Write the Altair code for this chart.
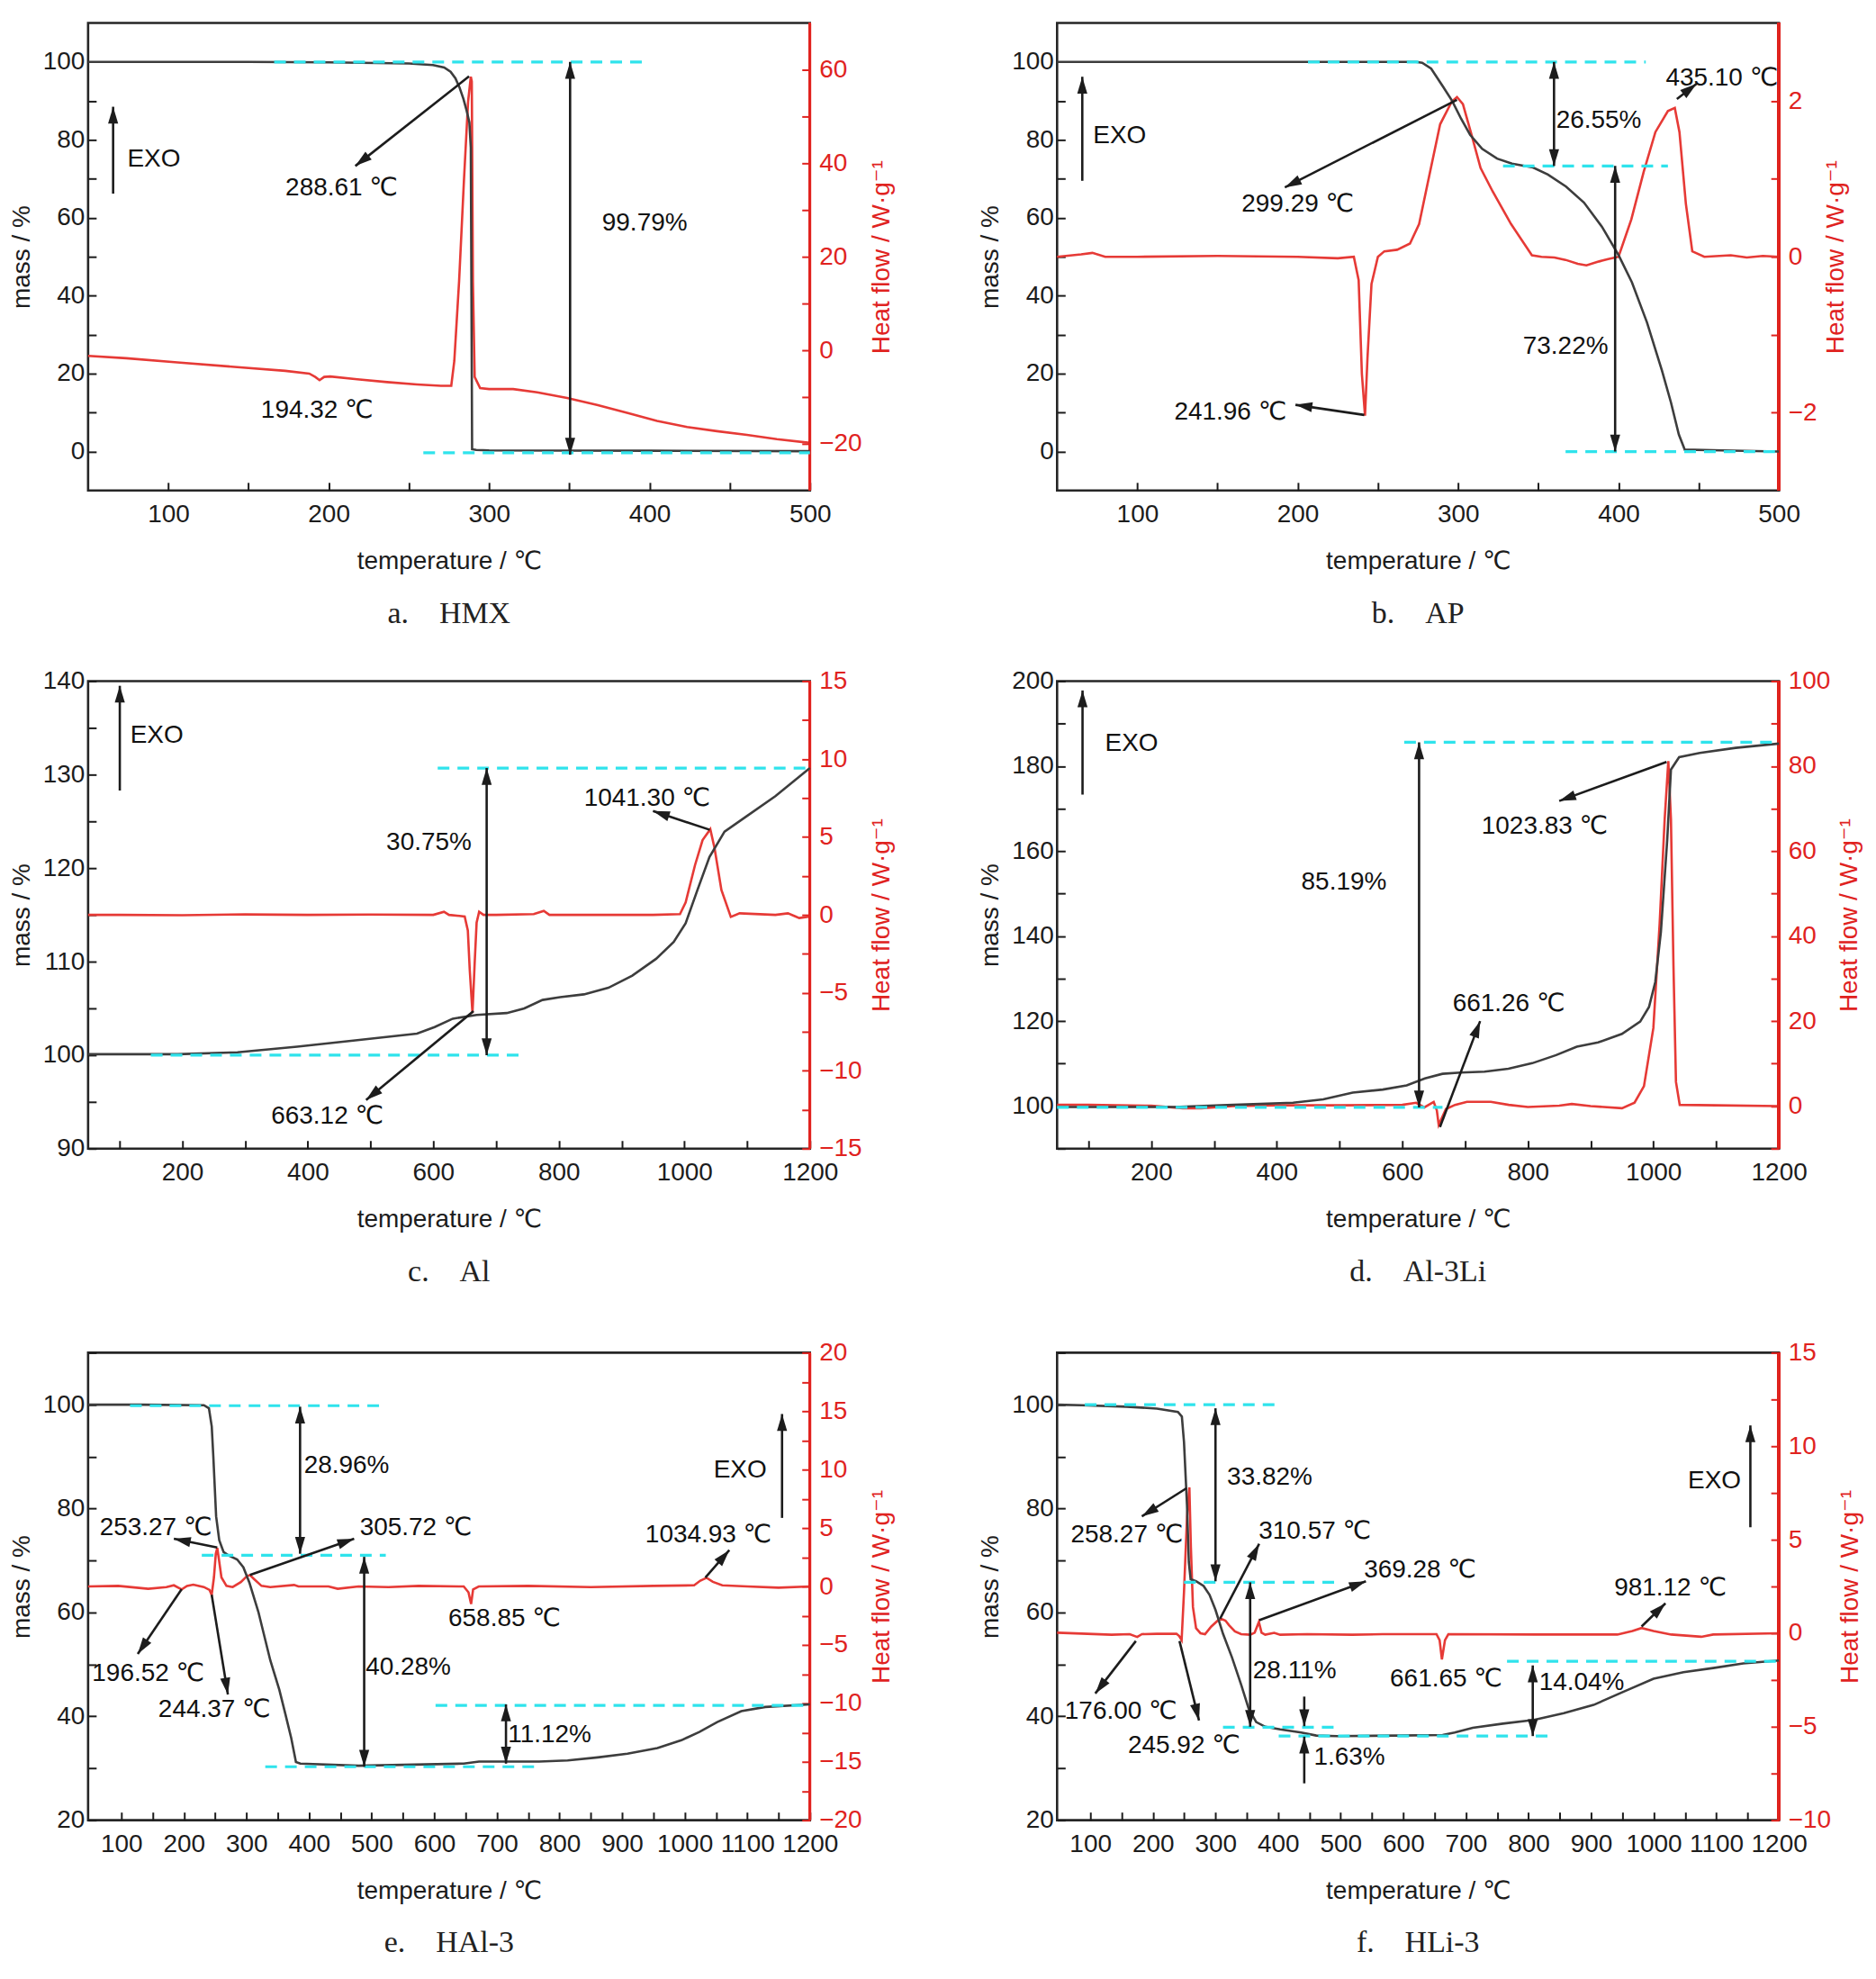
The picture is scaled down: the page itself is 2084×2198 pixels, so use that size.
import math
import altair as alt
import pandas as pd

# ---------------- data: a. HMX ----------------
a_mass_t = [50, 150, 200, 250, 265, 272, 276, 279, 281.5, 284, 286, 287.7, 288.6, 289.0, 289.4, 292, 300, 400, 500]
a_mass_v = [100, 100, 99.9, 99.6, 99.2, 98.6, 97.5, 95.8, 93.5, 90.5, 87.5, 84.5, 78, 40, 0.6, 0.4, 0.3, 0.2, 0.1]
a_heat_t = [50, 73.8, 105.6, 143, 172.9, 187.9, 191.6, 194.3, 197.2, 200.9, 217.8, 236.4, 255, 270, 276.4, 278.3,
            281.3, 284.3, 286.9, 288.6, 289.2, 289.9, 291, 294.4, 300, 315, 330, 348.6, 367.3, 386, 404.7, 423.4,
            442, 460.7, 479.4, 500]
a_heat_v = [-1.2, -1.7, -2.6, -3.6, -4.4, -5.0, -5.7, -6.4, -5.7, -5.6, -6.2, -6.8, -7.3, -7.6, -7.6, -2.3,
            14.8, 36.2, 53.2, 58.5, 57.5, 14.8, -5.7, -8.1, -8.3, -8.3, -9.0, -10.2, -11.7, -13.4, -15.1, -16.4,
            -17.3, -18.1, -19.0, -19.8]
a_cyan_x1 = [166, 259]
a_cyan_x2 = [399, 500]
a_cyan_y = [100, -0.3]
a_arr_x1 = [65.6, 287.5, 350.5]
a_arr_y1 = [66.2, 96.3, 100]
a_arr_x2 = [65.6, 216.6, 350.5]
a_arr_y2 = [88.5, 73.3, -0.8]
a_arr_both = [False, False, True]
a_txt = ["EXO", "288.61 ℃", "99.79%", "194.32 ℃"]
a_txt_x = [91, 208, 397, 192.7]
a_txt_y = [75, 67.7, 58.6, 10.6]

# ---------------- data: b. AP ----------------
b_mass_t = [50, 273.8, 277.6, 283.2, 290.7, 296.3, 301.9, 307.5, 315, 324.3, 333.6, 346.7, 356, 367.3, 378.5,
            389.7, 400.2, 408.4, 417.8, 427.1, 432.7, 437.6, 441.3, 464.5, 500]
b_mass_v = [100, 100, 99.8, 98.3, 93.6, 90, 85.4, 81.3, 77.7, 75.2, 73.9, 72.9, 71.1, 68, 63.9, 57.7, 50.3,
            43.4, 33.1, 20.8, 12.6, 4.4, 0.5, 0.3, 0]
b_heat_t = [50, 65, 72, 80, 100, 150, 200, 225, 235, 238, 240, 241.96, 243.5, 246, 250, 254, 262, 270, 275.7,
            281, 288.8, 296, 299.3, 303, 308.6, 314, 321.5, 333, 346, 352, 360, 367, 374.6, 380, 387.9, 393.5,
            400, 408, 415.7, 423, 430.8, 435.1, 438, 442, 446, 453.5, 470, 480, 490, 500]
b_heat_v = [0, 0.03, 0.05, 0.0, 0, 0.01, 0.0, -0.02, 0.0, -0.3, -1.5, -2.04, -1.3, -0.35, 0.0, 0.07, 0.09,
            0.17, 0.42, 0.94, 1.7, 1.99, 2.05, 1.96, 1.55, 1.14, 0.84, 0.42, 0.02, 0.0, -0.01, -0.04, -0.09,
            -0.11, -0.06, -0.03, 0.0, 0.48, 1.09, 1.6, 1.87, 1.91, 1.6, 0.68, 0.07, 0.0, 0.02, -0.01, 0.01, 0.0]
b_cyan_x1 = [206.4, 328, 367]
b_cyan_x2 = [417, 430.8, 500]
b_cyan_y = [100, 73.3, 0]
b_arr_x1 = [65.7, 359.8, 397.9, 299.3, 241.5, 436.4]
b_arr_y1 = [69.5, 100, 73.3, 90.3, 9.4, 90.5]
b_arr_x2 = [65.7, 359.8, 397.9, 192, 198.6, 448.7]
b_arr_y2 = [96.2, 73.3, 0, 67.8, 12, 94.4]
b_arr_both = [False, True, True, False, False, False]
b_txt = ["EXO", "26.55%", "73.22%", "299.29 ℃", "241.96 ℃", "435.10 ℃"]
b_txt_x = [89, 387.7, 367, 200, 158, 464.4]
b_txt_y = [81, 84.9, 27, 63.4, 10, 95.7]

# ---------------- data: c. Al ----------------
c_mass_t = [50, 193, 288, 383, 479, 574, 602, 631, 669, 717, 745, 774, 802, 840, 879, 917, 955, 983, 1002,
            1021, 1040, 1064, 1098, 1145, 1200]
c_mass_v = [100.1, 100.1, 100.3, 100.9, 101.6, 102.3, 103, 103.9, 104.3, 104.5, 105, 105.9, 106.2, 106.5,
            107.2, 108.5, 110.3, 112.1, 114.1, 117.7, 121.2, 123.9, 125.5, 127.7, 130.7]
c_heat_t = [50, 100, 200, 300, 400, 500, 600, 617, 625, 650, 655, 658, 662.4, 666, 669, 673, 680, 700, 760,
            776, 785, 850, 950, 993, 1002, 1017, 1029, 1041.3, 1048, 1059, 1074, 1088, 1145, 1165, 1183, 1200]
c_heat_v = [0, 0, -0.02, 0.03, 0, 0.02, 0, 0.2, 0, -0.1, -1.0, -3.5, -6.3, -3.0, -0.5, 0.2, 0, 0, 0.05,
            0.25, 0, 0, 0, 0.05, 0.8, 3.2, 4.8, 5.5, 4.3, 1.6, -0.13, 0.1, 0, 0.1, -0.2, -0.1]
c_cyan_x1 = [607, 150]
c_cyan_x2 = [1200, 740.5]
c_cyan_y = [130.7, 100]
c_arr_x1 = [100.5, 685, 664, 1040.5]
c_arr_y1 = [128.3, 130.7, 104.7, 124.1]
c_arr_x2 = [100.5, 685, 492.9, 950]
c_arr_y2 = [139.5, 100, 95.2, 126.1]
c_arr_both = [False, True, False, False]
c_txt = ["EXO", "30.75%", "663.12 ℃", "1041.30 ℃"]
c_txt_x = [159.5, 593, 431, 940.5]
c_txt_y = [134.2, 122.7, 93.4, 127.4]

# ---------------- data: d. Al-3Li ----------------
d_mass_t = [50, 140, 236, 331, 426, 474, 521, 569, 607, 636, 664, 693, 731, 769, 807, 845, 878, 912, 950, 979,
            993, 1003, 1012, 1022, 1028, 1041, 1074, 1131, 1200]
d_mass_v = [99.8, 99.8, 99.8, 100.3, 100.8, 101.6, 103.2, 103.9, 104.9, 106.5, 107.6, 107.9, 108.1, 108.8,
            110.1, 112, 114, 115, 117, 119.9, 123.3, 129.2, 141, 162.5, 179.2, 182.1, 183.1, 184.3, 185.3]
d_heat_t = [50, 100, 200, 250, 280, 330, 400, 500, 600, 622, 635, 650, 655, 658, 669.5, 684, 703, 741, 769.5,
            800, 850, 870, 900, 950, 970, 985, 1000, 1010, 1018, 1023.8, 1028, 1032, 1036, 1042, 1100, 1200]
d_heat_v = [0.3, 0.3, 0.1, -0.5, -0.5, 0, 0.2, 0.2, 0.3, 0.8, -0.3, 1.0, -1.0, -4.4, -0.7, 0.3, 1.0, 1.0,
            0.3, -0.2, 0.1, 0.5, 0.0, -0.5, 0.8, 4.7, 18.4, 43, 67.5, 81.2, 67.5, 33, 5.7, 0.3, 0.2, 0.0]
d_cyan_x1 = [603, 50]
d_cyan_x2 = [1200, 664]
d_cyan_y = [185.6, 99.7]
d_arr_x1 = [90.5, 626.7, 1021, 660]
d_arr_y1 = [173.3, 185.6, 181, 95.1]
d_arr_x2 = [90.5, 626.7, 850, 724]
d_arr_y2 = [197.8, 99.7, 171.8, 120]
d_arr_both = [False, True, False, False]
d_txt = ["EXO", "85.19%", "1023.83 ℃", "661.26 ℃"]
d_txt_x = [168.6, 507, 826.7, 769.5]
d_txt_y = [185.3, 152.7, 165.7, 124]

# ---------------- data: e. HAl-3 ----------------
e_mass_t = [47, 133, 232, 240, 244.5, 247, 251.5, 256.5, 263.5, 271, 285, 295, 304.5, 319, 338, 352.5, 362,
            371.5, 379, 386, 479, 647, 671.4, 767.5, 813, 861, 908.6, 956.5, 994.7, 1023.4, 1052, 1090.4,
            1128.7, 1200]
e_mass_v = [100, 100, 99.9, 99.3, 95.8, 90.1, 78.5, 73.9, 71.6, 71, 70.2, 68.7, 65.8, 60.1, 50.8, 45.1, 40.5,
            35.8, 31.2, 30.9, 30.5, 30.9, 31.3, 31.3, 31.5, 32.1, 32.8, 33.9, 35.4, 37, 38.9, 41, 41.8, 42.3]
e_heat_t = [47, 95, 143, 172, 184, 196.5, 205, 215, 232, 241, 244.4, 248, 251, 253.3, 256, 260, 268, 278, 291,
            301, 305.7, 312, 324, 338, 376, 383, 431, 445.7, 479, 527, 575, 647, 654.6, 658.8, 662, 671, 750,
            850, 950, 1015, 1025, 1035, 1045, 1060, 1100, 1150, 1200]
e_heat_v = [0, 0.05, -0.2, -0.05, 0.1, -0.25, 0.05, 0.15, -0.05, -0.3, -0.72, 0.77, 2.8, 3.3, 2.3, 0.77, 0.05,
            -0.05, 0.38, 0.9, 0.97, 0.64, 0.05, -0.05, 0.13, 0, 0, -0.2, 0, -0.05, 0.05, 0, -0.5, -1.5, -0.25,
            0, 0.05, -0.05, 0.05, 0.1, 0.5, 0.74, 0.4, 0.1, 0, -0.1, 0]
e_cyan_x1 = [114, 228.6, 330, 602]
e_cyan_x2 = [522, 522.5, 770, 1200]
e_cyan_y = [99.8, 71.0, 30.3, 42.1]
e_arr_x1 = [385.6, 488, 714.5, 253.3, 305.5, 196.5, 244.4, 1033, 1155.5]
e_arr_y1 = [99.6, 70.7, 42.3, 72.5, 67.2, 64.5, 63.4, 66.7, 78.2]
e_arr_x2 = [385.6, 488, 714.5, 184, 472, 126.3, 270.3, 1071.3, 1155.5]
e_arr_y2 = [71.3, 30.3, 30.9, 74.2, 74.2, 52, 44.2, 72, 98.2]
e_arr_both = [True, True, True, False, False, False, False, False, False]
e_txt = ["28.96%", "40.28%", "11.12%", "253.27 ℃", "305.72 ℃", "196.52 ℃", "244.37 ℃", "658.85 ℃",
         "1034.93 ℃", "EXO"]
e_txt_x = [460, 558.5, 784.2, 155, 570.5, 143, 248.7, 712, 1037.8, 1088.5]
e_txt_y = [88.2, 49.4, 36.4, 76.2, 76.2, 48.2, 41.3, 58.8, 74.9, 87.3]

# ---------------- data: f. HLi-3 ----------------
f_mass_t = [47, 86.4, 158.4, 206.5, 240, 246.3, 249.7, 254.5, 257.4, 260.3, 269, 281, 290.5, 300, 312, 326.5,
            341, 353, 365, 379.4, 403.4, 437, 461, 494.6, 590.7, 662.8, 682, 711, 759, 808.7, 856.4, 904, 952,
            999.7, 1047.5, 1095, 1143, 1200]
f_mass_v = [100, 99.9, 99.6, 99.25, 98.6, 97.7, 92.8, 80.7, 69.7, 66.4, 66, 65.1, 63.4, 60.5, 55.9, 51.3, 46.1,
            41.5, 38.9, 38, 37.5, 36.9, 36.3, 36.2, 36.3, 36.4, 36.9, 37.8, 38.6, 39.3, 40.6, 42.2, 44.75,
            47.25, 48.5, 49.3, 50.2, 50.75]
f_heat_t = [47, 86, 134, 163, 175, 182.5, 206.5, 237.7, 242, 245.9, 249.7, 254.5, 258.3, 260.7, 264, 269, 276,
            283.3, 293, 305, 310.5, 316, 321.7, 331, 341, 355.4, 362.6, 369.3, 373.6, 379.4, 393.8, 403.4, 446.6,
            518.7, 566.7, 653, 658, 661.7, 666.6, 672, 808.7, 942, 966, 980.6, 999.7, 1028, 1076, 1095, 1200]
f_heat_v = [0.03, -0.02, -0.08, -0.05, -0.2, -0.05, -0.03, -0.03, -0.15, -0.37, 2.2, 6.2, 7.8, 4.6, 1.4, 0.27,
            0, -0.05, 0.35, 0.72, 0.75, 0.67, 0.43, 0.1, -0.05, -0.08, 0.03, 0.6, 0.03, -0.08, 0.02, -0.08,
            -0.05, -0.08, -0.05, -0.05, -0.37, -1.4, -0.37, -0.05, -0.07, -0.07, 0.12, 0.28, 0.12, -0.07,
            -0.19, -0.07, 0.0]
f_cyan_x1 = [91.2, 249.7, 312, 401, 765.7]
f_cyan_x2 = [398.6, 492, 492, 837, 1200]
f_cyan_y = [100, 65.8, 37.9, 36.2, 50.6]
f_arr_x1 = [300, 355.4, 441.8, 441.8, 806.8, 253.5, 307.3, 369.8, 172.8, 242.5, 980.6, 1154.4]
f_arr_y1 = [99.3, 65.8, 43.8, 27.1, 49.8, 83.9, 58.8, 58.5, 54.5, 54.5, 57.3, 76.4]
f_arr_x2 = [300, 355.4, 441.8, 441.8, 806.8, 182.4, 369.8, 540.3, 108, 273.7, 1018.8, 1154.4]
f_arr_y2 = [66, 38, 38.1, 36.1, 36.2, 78.5, 73.2, 66, 44.4, 39.2, 61.75, 96]
f_arr_both = [True, True, False, False, True, False, False, False, False, False, False, False]
f_txt = ["33.82%", "28.11%", "1.63%", "14.04%", "258.27 ℃", "310.57 ℃", "369.28 ℃", "176.00 ℃",
         "245.92 ℃", "661.65 ℃", "981.12 ℃", "EXO"]
f_txt_x = [386.6, 426.4, 513.9, 885, 158.4, 458.6, 626.7, 148.8, 249.7, 668.3, 1026.5, 1097]
f_txt_y = [85.9, 48.7, 32, 46.4, 74.9, 75.5, 68.1, 40.9, 34.3, 47.1, 64.6, 85.3]

# ---------------- axes per panel ----------------
ticks_500 = list(range(100, 501, 50))
ticks_1200a = list(range(100, 1201, 100))
ticks_1200b = list(range(100, 1201, 50))


def frange(a, b, s):
    out, v = [], a
    while v <= b + 1e-9:
        out.append(round(v, 3))
        v += s
    return out


PANELS = [
    dict(cap="a.\u00a0\u00a0\u00a0\u00a0HMX", xdom=[50, 500], mdom=[-10, 110], hdom=[-30, 70],
         xt=ticks_500, xs=100, mt=list(range(0, 101, 10)), ms=20, ht=list(range(-20, 61, 10)), hs=20,
         mass=(a_mass_t, a_mass_v), heat=(a_heat_t, a_heat_v), cyan=(a_cyan_x1, a_cyan_x2, a_cyan_y),
         arr=(a_arr_x1, a_arr_y1, a_arr_x2, a_arr_y2, a_arr_both), txt=(a_txt, a_txt_x, a_txt_y)),
    dict(cap="b.\u00a0\u00a0\u00a0\u00a0AP", xdom=[50, 500], mdom=[-10, 110], hdom=[-3, 3],
         xt=ticks_500, xs=100, mt=list(range(0, 101, 10)), ms=20, ht=[-2, -1, 0, 1, 2], hs=2,
         mass=(b_mass_t, b_mass_v), heat=(b_heat_t, b_heat_v), cyan=(b_cyan_x1, b_cyan_x2, b_cyan_y),
         arr=(b_arr_x1, b_arr_y1, b_arr_x2, b_arr_y2, b_arr_both), txt=(b_txt, b_txt_x, b_txt_y)),
    dict(cap="c.\u00a0\u00a0\u00a0\u00a0Al", xdom=[50, 1200], mdom=[90, 140], hdom=[-15, 15],
         xt=ticks_1200a, xs=200, mt=list(range(90, 141, 5)), ms=10, ht=frange(-15, 15, 2.5), hs=5,
         mass=(c_mass_t, c_mass_v), heat=(c_heat_t, c_heat_v), cyan=(c_cyan_x1, c_cyan_x2, c_cyan_y),
         arr=(c_arr_x1, c_arr_y1, c_arr_x2, c_arr_y2, c_arr_both), txt=(c_txt, c_txt_x, c_txt_y)),
    dict(cap="d.\u00a0\u00a0\u00a0\u00a0Al-3Li", xdom=[50, 1200], mdom=[90, 200], hdom=[-10, 100],
         xt=ticks_1200a, xs=200, mt=list(range(90, 201, 10)), ms=20, ht=list(range(-10, 101, 10)), hs=20,
         mass=(d_mass_t, d_mass_v), heat=(d_heat_t, d_heat_v), cyan=(d_cyan_x1, d_cyan_x2, d_cyan_y),
         arr=(d_arr_x1, d_arr_y1, d_arr_x2, d_arr_y2, d_arr_both), txt=(d_txt, d_txt_x, d_txt_y)),
    dict(cap="e.\u00a0\u00a0\u00a0\u00a0HAl-3", xdom=[47, 1200], mdom=[20, 110], hdom=[-20, 20],
         xt=ticks_1200b, xs=100, mt=list(range(20, 111, 10)), ms=20, ht=frange(-20, 20, 2.5), hs=5,
         mass=(e_mass_t, e_mass_v), heat=(e_heat_t, e_heat_v), cyan=(e_cyan_x1, e_cyan_x2, e_cyan_y),
         arr=(e_arr_x1, e_arr_y1, e_arr_x2, e_arr_y2, e_arr_both), txt=(e_txt, e_txt_x, e_txt_y)),
    dict(cap="f.\u00a0\u00a0\u00a0\u00a0HLi-3", xdom=[47, 1200], mdom=[20, 110], hdom=[-10, 15],
         xt=ticks_1200b, xs=100, mt=list(range(20, 111, 10)), ms=20, ht=frange(-10, 15, 2.5), hs=5,
         mass=(f_mass_t, f_mass_v), heat=(f_heat_t, f_heat_v), cyan=(f_cyan_x1, f_cyan_x2, f_cyan_y),
         arr=(f_arr_x1, f_arr_y1, f_arr_x2, f_arr_y2, f_arr_both), txt=(f_txt, f_txt_x, f_txt_y)),
]

# ---------------- styling ----------------
FONT = "Liberation Sans, Arial, DejaVu Sans, sans-serif"
SERIF = "Liberation Serif, Times New Roman, serif"
INK = "#1c1c1c"
MASS_C = "#3d3d3d"
HEAT_C = "#e63a36"
AXRED = "#e0231f"
CYAN = "#2fe3ec"
W, H = 803, 520
TS = 9
FS = 28
ARROW = "M0,0L0.3,1L-0.3,1Z"


def panel(P):
    x0, x1 = P["xdom"]
    m0, m1 = P["mdom"]
    h0, h1 = P["hdom"]
    xsc = alt.Scale(domain=[x0, x1], nice=False, zero=False)
    msc = alt.Scale(domain=[m0, m1], nice=False, zero=False)
    hsc = alt.Scale(domain=[h0, h1], nice=False, zero=False)

    xaxis = alt.Axis(values=P["xt"], format="d", labelExpr=f"datum.value % {P['xs']} === 0 ? datum.label : ''",
                     title="temperature / ℃", orient="bottom", offset=-TS, tickSize=TS, tickWidth=2,
                     tickColor=INK, domain=False, grid=False, labelPadding=13, titlePadding=24,
                     labelFlush=False, labelOverlap=False, labelColor=INK, titleColor=INK)
    maxis = alt.Axis(values=P["mt"], format="d", labelExpr=f"datum.value % {P['ms']} === 0 ? datum.label : ''",
                     title="mass / %", orient="left", offset=-TS, tickSize=TS, tickWidth=2, tickColor=INK,
                     domain=False, grid=False, labelPadding=4, titlePadding=9, labelOverlap=False,
                     labelColor=INK, titleColor=INK)
    haxis = alt.Axis(values=P["ht"], format="d", labelExpr=f"datum.value % {P['hs']} === 0 ? datum.label : ''",
                     title="Heat flow / W·g⁻¹", orient="right", offset=-TS, tickSize=TS, tickWidth=2,
                     tickColor=AXRED, domain=False, grid=False, labelPadding=10, titlePadding=8,
                     labelOverlap=False, labelColor=AXRED, titleColor=AXRED, titleAngle=270,
                     titleBaseline="top")

    mass_df = pd.DataFrame({"t": P["mass"][0], "v": P["mass"][1]})
    heat_df = pd.DataFrame({"t": P["heat"][0], "v": P["heat"][1]})
    cyan_df = pd.DataFrame({"x1": P["cyan"][0], "x2": P["cyan"][1], "y": P["cyan"][2]})
    ax1, ay1, ax2, ay2, both = P["arr"]
    arr_df = pd.DataFrame({"x1": ax1, "y1": ay1, "x2": ax2, "y2": ay2})
    txt_df = pd.DataFrame({"s": P["txt"][0], "x": P["txt"][1], "y": P["txt"][2]})

    px = W / (x1 - x0)
    py = H / (m1 - m0)
    heads = []
    for sx, sy, ex, ey, b in zip(ax1, ay1, ax2, ay2, both):
        pairs = [(sx, sy, ex, ey)] + ([(ex, ey, sx, sy)] if b else [])
        for qx, qy, rx, ry in pairs:
            dx = (rx - qx) * px
            dy = -(ry - qy) * py
            ang = math.degrees(math.atan2(dx, -dy)) % 360
            heads.append({"x": rx, "y": ry, "ang": ang})
    head_df = pd.DataFrame(heads)

    heat_line = alt.Chart(heat_df).mark_line(color=HEAT_C, strokeWidth=2.6).encode(
        x=alt.X("t:Q", scale=xsc, axis=xaxis),
        y=alt.Y("v:Q", scale=hsc, axis=haxis),
    )
    red_frame = alt.Chart(heat_df).mark_rule(color=AXRED, strokeWidth=2.6).encode(
        x=alt.XDatum(x1, scale=xsc, axis=xaxis),
        y=alt.YDatum(h0, scale=hsc, axis=haxis),
        y2=alt.Y2Datum(h1),
    )
    heat_group = alt.layer(heat_line, red_frame)

    mass_line = alt.Chart(mass_df).mark_line(color=MASS_C, strokeWidth=2.6).encode(
        x=alt.X("t:Q", scale=xsc, axis=xaxis),
        y=alt.Y("v:Q", scale=msc, axis=maxis),
    )
    cyan = alt.Chart(cyan_df).mark_rule(color=CYAN, strokeWidth=3.2, strokeDash=[13, 9]).encode(
        x=alt.X("x1:Q", scale=xsc, axis=xaxis), x2="x2:Q",
        y=alt.Y("y:Q", scale=msc, axis=maxis),
    )
    arrows = alt.Chart(arr_df).mark_rule(color=INK, strokeWidth=2.6).encode(
        x=alt.X("x1:Q", scale=xsc, axis=xaxis), x2="x2:Q",
        y=alt.Y("y1:Q", scale=msc, axis=maxis), y2="y2:Q",
    )
    tips = alt.Chart(head_df).mark_point(shape=ARROW, filled=True, size=1400, color=INK, opacity=1,
                                         strokeWidth=0).encode(
        x=alt.X("x:Q", scale=xsc, axis=xaxis),
        y=alt.Y("y:Q", scale=msc, axis=maxis),
        angle=alt.Angle("ang:Q", scale=None),
    )
    labels = alt.Chart(txt_df).mark_text(font=FONT, fontSize=FS, color="#111111", align="center",
                                         baseline="middle").encode(
        x=alt.X("x:Q", scale=xsc, axis=xaxis),
        y=alt.Y("y:Q", scale=msc, axis=maxis),
        text="s:N",
    )
    mass_group = alt.layer(mass_line, cyan, arrows, tips, labels)

    return alt.layer(heat_group, mass_group).resolve_scale(y="independent").properties(
        width=W, height=H,
        title=alt.TitleParams(P["cap"], orient="bottom", font=SERIF, fontSize=34, fontWeight="normal",
                              color="#222222", offset=27, anchor="middle"),
    )


charts = [panel(P) for P in PANELS]
row1 = alt.hconcat(charts[0], charts[1], spacing=90)
row2 = alt.hconcat(charts[2], charts[3], spacing=90)
row3 = alt.hconcat(charts[4], charts[5], spacing=90)

chart = alt.vconcat(alt.vconcat(row1, row2, spacing=40), row3, spacing=55).properties(
    padding={"left": 0, "top": 13, "right": 5, "bottom": 5}, background="white"
).configure_view(stroke="#262626", strokeWidth=2.6).configure_axis(
    labelFont=FONT, titleFont=FONT, labelFontSize=FS, titleFontSize=FS, titleFontWeight="normal"
)

chart.save("out.html", embed_options={"renderer": "svg", "actions": False})
